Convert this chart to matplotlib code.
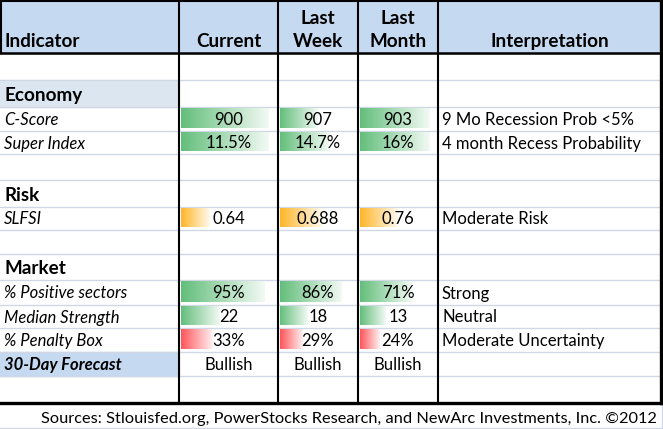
import numpy as np
import matplotlib
matplotlib.use('Agg')
import matplotlib.pyplot as plt
from matplotlib.colors import LinearSegmentedColormap, to_rgb

plt.rcParams['font.family'] = ['Lato', 'DejaVu Sans']

#--Data--#
headers = ['Indicator', 'Current', 'Last\nWeek', 'Last\nMonth', 'Interpretation']
sections = ['Economy', 'Risk', 'Market']
indicators = ['C-Score', 'Super Index', 'SLFSI', '% Positive sectors',
              'Median Strength', '% Penalty Box']
current = ['900', '11.5%', '0.64', '95%', '22', '33%']
last_week = ['907', '14.7%', '0.688', '86%', '18', '29%']
last_month = ['903', '16%', '0.76', '71%', '13', '24%']
interpretation = ['9 Mo Recession Prob <5%', '4 month Recess Probability',
                  'Moderate Risk', 'Strong', 'Neutral', 'Moderate Uncertainty']
forecast_label = '30-Day Forecast'
forecast = ['Bullish', 'Bullish', 'Bullish']
source = 'Sources: Stlouisfed.org, PowerStocks Research, and NewArc Investments, Inc. \u00a92012'

# data bar fill (share of the cell)
bar_current = [0.91, 0.91, 0.30, 0.87, 0.40, 0.33]
bar_week = [0.49, 0.62, 0.53, 0.80, 0.35, 0.29]
bar_month = [0.90, 0.90, 0.49, 0.67, 0.33, 0.25]
bar_kind = ['green', 'green', 'orange', 'green', 'green', 'red']

#--Layout (pixels)--#
W, H = 663, 429
col_edges = [0, 179, 278, 358, 438, 661]
header_h = 53
row_h = [27, 27, 24, 23, 26, 27, 23, 24, 26, 25, 23, 24, 24, 27]
# what sits in each row: None = blank, ('sec', i), ('ind', i), 'fc'
row_use = [None, ('sec', 0), ('ind', 0), ('ind', 1), None, ('sec', 1), ('ind', 2),
           None, ('sec', 2), ('ind', 3), ('ind', 4), ('ind', 5), 'fc', None]
row_top = header_h + np.concatenate([[0], np.cumsum(row_h)])
body_bottom = row_top[-1]

colors = {'green': '#63BE7B', 'orange': '#FFB628', 'red': '#FF555A'}
grid_c = '#d0d7e5'
head_c = '#c5d9f1'
sec_c = '#dce6f1'

fig = plt.figure(figsize=(W / 100, H / 100), dpi=100)
ax = fig.add_axes([0, 0, 1, 1])

# header and shaded cells
ax.add_patch(plt.Rectangle((0, 0), col_edges[-1], header_h, color=head_c, zorder=0))
for r, use in enumerate(row_use):
    if use == ('sec', 0):
        ax.add_patch(plt.Rectangle((0, row_top[r]), col_edges[1], row_h[r], color=sec_c, zorder=0))
    if use == 'fc':
        ax.add_patch(plt.Rectangle((0, row_top[r]), col_edges[1], row_h[r], color=head_c, zorder=0))

# gridlines
for y in list(row_top) + [H - 1.5]:
    ax.plot([0, W], [y, y], color=grid_c, lw=1, zorder=1)
ax.plot([W - 1, W - 1], [body_bottom, H], color=grid_c, lw=1, zorder=1)

# header text
fs_head = 13.6
fs_body = 12
for c, h in enumerate(headers):
    x0, x1 = col_edges[c], col_edges[c + 1]
    if c == 0:
        ax.text(x0 + 4, header_h - 6, h, ha='left', va='baseline', fontsize=fs_head,
                fontweight='bold', zorder=5)
    else:
        ax.text((x0 + x1) / 2, header_h - 6, h, ha='center', va='baseline', fontsize=fs_head,
                fontweight='bold', linespacing=1.45, zorder=5)

# bars and values
value_cols = [current, last_week, last_month]
bar_cols = [bar_current, bar_week, bar_month]
for r, use in enumerate(row_use):
    y0, y1 = row_top[r], row_top[r + 1]
    yc = (y0 + y1) / 2 + 1
    if use is None:
        continue
    if use == 'fc':
        ax.text(4, yc, forecast_label, ha='left', va='center', fontsize=fs_body,
                fontweight='bold', fontstyle='italic', zorder=5)
        for c, v in enumerate(forecast):
            ax.text((col_edges[c + 1] + col_edges[c + 2]) / 2, yc, v, ha='center',
                    va='center', fontsize=fs_body, zorder=5)
        continue
    kind, i = use
    if kind == 'sec':
        ax.text(4, yc + 1, sections[i], ha='left', va='center', fontsize=fs_head,
                fontweight='bold', zorder=5)
        continue
    ax.text(4, yc, indicators[i], ha='left', va='center', fontsize=fs_body,
            fontstyle='italic', zorder=5)
    base = to_rgb(colors[bar_kind[i]])
    light = tuple(0.92 + 0.08 * np.array(base))
    cmap = LinearSegmentedColormap.from_list('bar', [base, light])
    grad = np.linspace(0, 1, 256).reshape(1, -1)
    for c in range(3):
        cx0, cx1 = col_edges[c + 1] + 1.5, col_edges[c + 2] - 1
        bw = (cx1 - cx0) * bar_cols[c][i]
        ax.imshow(grad, cmap=cmap, aspect='auto', interpolation='bilinear',
                  extent=[cx0, cx0 + bw, y1 - 3, y0 + 1.5], zorder=2)
        ax.text((col_edges[c + 1] + col_edges[c + 2]) / 2, yc, value_cols[c][i],
                ha='center', va='center', fontsize=fs_body, zorder=5)
    ax.text(col_edges[4] + 4, yc, interpretation[i], ha='left', va='center',
            fontsize=fs_body, zorder=5)

# borders
ax.plot([0, W], [0.8, 0.8], color='black', lw=1.5, zorder=6)
ax.plot([0.8, 0.8], [0, header_h], color='black', lw=1.5, zorder=6)
ax.plot([0, col_edges[-1]], [header_h, header_h], color='black', lw=1.8, zorder=6)
for x in col_edges[1:-1]:
    ax.plot([x, x], [0, body_bottom], color='black', lw=1.5, zorder=6)
ax.plot([col_edges[-1], col_edges[-1]], [0, body_bottom], color='black', lw=2.4, zorder=6)
ax.plot([0, col_edges[-1] + 1.2], [body_bottom, body_bottom], color='black', lw=2.4, zorder=6)

# footer
ax.text(349, (body_bottom + H) / 2 + 2.5, source, ha='center', va='center',
        fontsize=11.8, zorder=5)

ax.set_xlim(0, W)
ax.set_ylim(H, 0)
ax.axis('off')
plt.savefig('out.png', dpi=100)
